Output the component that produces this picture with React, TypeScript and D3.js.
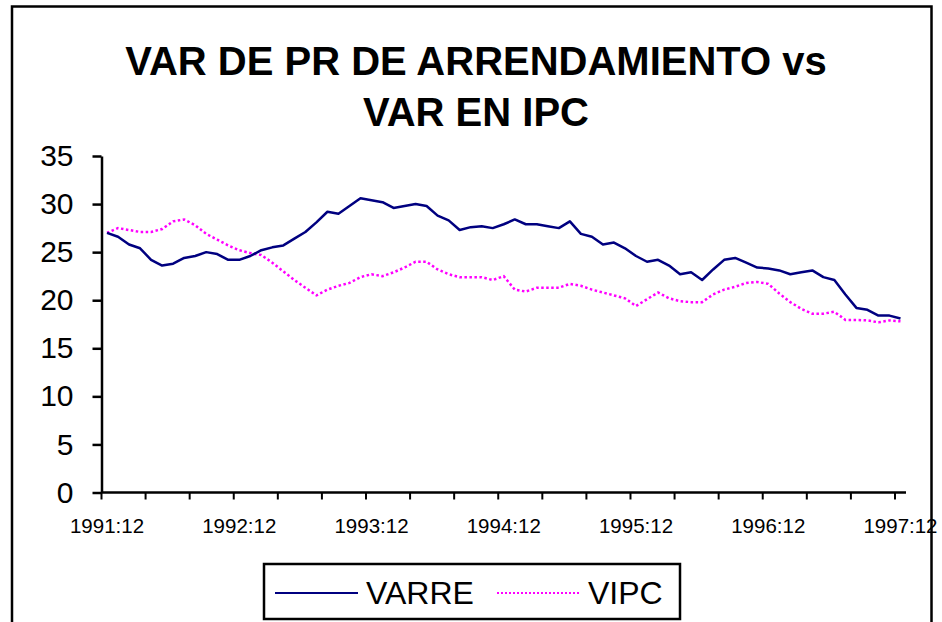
import React, { useRef, useEffect } from 'react';
import * as d3 from 'd3';

// monthly observations, 1991:12 .. 1997:12 (73 months)
const months = ['1991:12'].concat(
  d3.range(1992, 1998).flatMap((yr) => d3.range(1, 13).map((m) => `${yr}:${m}`))
);

const varre = [
  27.0, 26.6, 25.8, 25.4, 24.2, 23.6, 23.8, 24.4, 24.6, 25.0, 24.8, 24.2,
  24.2, 24.6, 25.2, 25.5, 25.7, 26.4, 27.1, 28.1, 29.2, 29.0, 29.8, 30.6,
  30.4, 30.2, 29.6, 29.8, 30.0, 29.8, 28.8, 28.3, 27.3, 27.6, 27.7, 27.5,
  27.9, 28.4, 27.9, 27.9, 27.7, 27.5, 28.2, 26.9, 26.6, 25.8, 26.0, 25.4,
  24.6, 24.0, 24.2, 23.6, 22.7, 22.9, 22.1, 23.2, 24.2, 24.4, 23.9, 23.4,
  23.3, 23.1, 22.7, 22.9, 23.1, 22.4, 22.1, 20.6, 19.2, 19.0, 18.4, 18.4,
  18.1,
];

const vipc = [
  27.0, 27.5, 27.3, 27.1, 27.1, 27.4, 28.2, 28.4, 27.8, 26.9, 26.3, 25.7,
  25.2, 24.9, 24.7, 23.9, 23.0, 22.1, 21.3, 20.5, 21.1, 21.5, 21.8, 22.4,
  22.7, 22.5, 22.9, 23.4, 24.0, 24.0, 23.2, 22.7, 22.4, 22.4, 22.4, 22.1,
  22.5, 21.1, 20.9, 21.3, 21.3, 21.3, 21.7, 21.5, 21.1, 20.8, 20.5, 20.2,
  19.4, 20.1, 20.8, 20.2, 19.9, 19.8, 19.8, 20.6, 21.1, 21.4, 21.8, 21.9,
  21.7, 20.7, 19.8, 19.1, 18.6, 18.6, 18.8, 17.95, 17.95, 17.9, 17.7, 17.9,
  17.8,
];

const yTicks = [0, 5, 10, 15, 20, 25, 30, 35];
const xLabels = ['1991:12', '1992:12', '1993:12', '1994:12', '1995:12', '1996:12', '1997:12'];
const seriesNames = ['VARRE', 'VIPC'];
const titleLines = ['VAR DE PR DE ARRENDAMIENTO vs', 'VAR EN IPC'];

const App = () => {
  const ref = useRef<SVGSVGElement>(null);

  useEffect(() => {
    const width = 942;
    const height = 622;
    const svg = d3.select(ref.current);
    svg.selectAll('*').remove();
    svg.attr('width', width).attr('height', height);

    const font = 'Arial, "Liberation Sans", sans-serif';

    // outer frame (bottom edge falls outside the picture)
    svg.append('rect')
      .attr('x', 12).attr('y', 6.5)
      .attr('width', 919.5).attr('height', 700)
      .attr('fill', 'white').attr('stroke', 'black').attr('stroke-width', 2.5);

    // title
    svg.append('g').selectAll('text')
      .data(titleLines)
      .join('text')
      .attr('x', 476)
      .attr('y', (d, i) => 75 + i * 51)
      .attr('text-anchor', 'middle')
      .attr('font-family', font)
      .attr('font-weight', 'bold')
      .attr('font-size', 40)
      .text((d) => d);

    const x = d3.scaleBand<string>().domain(months).range([101.5, 906]).padding(0);
    const cx = (d: string) => (x(d) as number) + x.bandwidth() / 2;
    const y = d3.scaleLinear().domain([0, 35]).range([492.5, 156]);

    // y axis
    const yAxis = svg.append('g')
      .attr('transform', 'translate(101.5,0)')
      .call(d3.axisLeft(y).tickValues(yTicks).tickSize(9).tickSizeOuter(0).tickPadding(19));
    yAxis.select('.domain').attr('stroke-width', 2.5);
    yAxis.selectAll('.tick line').attr('stroke-width', 2.5);
    yAxis.selectAll('.tick text')
      .attr('font-family', font).attr('font-size', 30).attr('fill', 'black');

    // x axis line
    svg.append('line')
      .attr('x1', 101.5).attr('x2', 906)
      .attr('y1', y(0)).attr('y2', y(0))
      .attr('stroke', 'black').attr('stroke-width', 2.5);

    // tick marks every 4 months
    svg.append('g').selectAll('line')
      .data(months.filter((d, i) => i % 4 === 0))
      .join('line')
      .attr('x1', (d) => x(d) as number).attr('x2', (d) => x(d) as number)
      .attr('y1', y(0)).attr('y2', y(0) + 7)
      .attr('stroke', 'black').attr('stroke-width', 2);

    svg.append('g').selectAll('text')
      .data(xLabels)
      .join('text')
      .attr('x', (d) => cx(d))
      .attr('y', 533)
      .attr('text-anchor', 'middle')
      .attr('font-family', font)
      .attr('font-size', 20.5)
      .text((d) => d);

    const line = d3.line<number>()
      .x((d, i) => cx(months[i]))
      .y((d) => y(d));

    svg.append('path')
      .datum(vipc)
      .attr('fill', 'none')
      .attr('stroke', '#ff00ff')
      .attr('stroke-width', 2.5)
      .attr('stroke-dasharray', '2.5 2.5')
      .attr('d', line);

    svg.append('path')
      .datum(varre)
      .attr('fill', 'none')
      .attr('stroke', '#000080')
      .attr('stroke-width', 2.5)
      .attr('stroke-linejoin', 'round')
      .attr('d', line);

    // legend
    const lg = svg.append('g');
    lg.append('rect')
      .attr('x', 264).attr('y', 564)
      .attr('width', 416).attr('height', 55)
      .attr('fill', 'white').attr('stroke', 'black').attr('stroke-width', 2.5);
    const items = [
      { name: seriesNames[0], color: '#000080', dash: null, x0: 275 },
      { name: seriesNames[1], color: '#ff00ff', dash: '2 2', x0: 497 },
    ];
    items.forEach((it) => {
      lg.append('line')
        .attr('x1', it.x0).attr('x2', it.x0 + 83)
        .attr('y1', 593).attr('y2', 593)
        .attr('stroke', it.color).attr('stroke-width', 2)
        .attr('stroke-dasharray', it.dash);
      lg.append('text')
        .attr('x', it.x0 + 91)
        .attr('y', 604)
        .attr('font-family', font)
        .attr('font-size', 32)
        .text(it.name);
    });
  }, []);

  return (
    <div style={{ position: 'absolute', left: 0, top: 0 }}>
      <svg ref={ref}></svg>
    </div>
  );
};

export default App;
